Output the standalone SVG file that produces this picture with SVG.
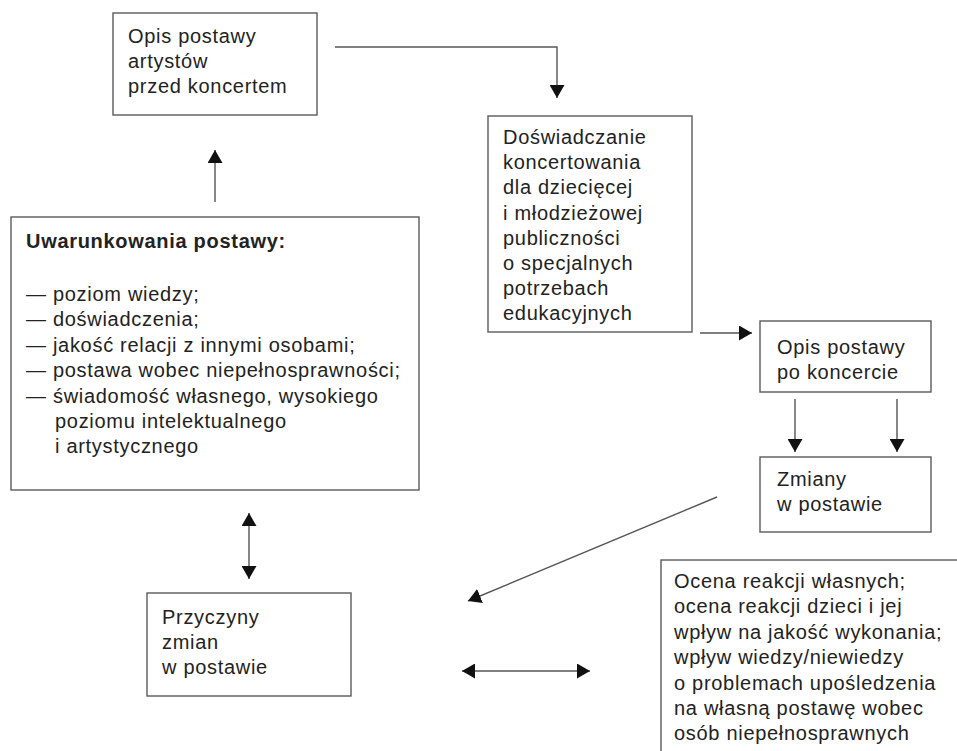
<svg xmlns="http://www.w3.org/2000/svg" width="957" height="751" viewBox="0 0 957 751">
<style>
.box{fill:#fff;stroke:#5a5a5a;stroke-width:1.4}
.t{font-family:"Liberation Sans",Arial,sans-serif;font-size:20px;letter-spacing:0.7px;fill:#222}
.b{font-weight:bold}
.ln{fill:none;stroke:#555;stroke-width:1.4}
</style>
<defs>
<marker id="ah" viewBox="0 0 13 15" refX="13" refY="7.5" markerWidth="13" markerHeight="15" markerUnits="userSpaceOnUse" orient="auto-start-reverse">
<path d="M0,0 L13,7.5 L0,15 Z" fill="#111"/>
</marker>
</defs>
<rect width="957" height="751" fill="#fff"/>
<g id="connectors">
<path class="ln" d="M335,47 H557 V98" marker-end="url(#ah)"/>
<path class="ln" d="M700,333 H752" marker-end="url(#ah)"/>
<path class="ln" d="M795,399 V452" marker-end="url(#ah)"/>
<path class="ln" d="M897,399 V452" marker-end="url(#ah)"/>
<path class="ln" d="M717,497 L468,601" marker-end="url(#ah)"/>
<path class="ln" d="M215,202 V150" marker-end="url(#ah)"/>
<path class="ln" d="M249,513 V579" marker-start="url(#ah)" marker-end="url(#ah)"/>
<path class="ln" d="M462,671 H590" marker-start="url(#ah)" marker-end="url(#ah)"/>
</g>
<g id="opis-przed">
<rect class="box" x="113" y="13" width="204" height="102"/>
<text class="t" x="128" y="43">Opis postawy</text>
<text class="t" x="128" y="68">artystów</text>
<text class="t" x="128" y="93">przed koncertem</text>
</g>
<g id="doswiadczanie">
<rect class="box" x="488" y="116" width="204" height="216"/>
<text class="t" x="503" y="144">Doświadczanie</text>
<text class="t" x="503" y="169.2">koncertowania</text>
<text class="t" x="503" y="194.4">dla dziecięcej</text>
<text class="t" x="503" y="219.6">i młodzieżowej</text>
<text class="t" x="503" y="244.8">publiczności</text>
<text class="t" x="503" y="270">o specjalnych</text>
<text class="t" x="503" y="295.2">potrzebach</text>
<text class="t" x="503" y="320.4">edukacyjnych</text>
</g>
<g id="uwarunkowania">
<rect class="box" x="11" y="217" width="408" height="273"/>
<text class="t b" x="26" y="248">Uwarunkowania postawy:</text>
<text class="t" x="26" y="301">— poziom wiedzy;</text>
<text class="t" x="26" y="326.4">— doświadczenia;</text>
<text class="t" x="26" y="351.8">— jakość relacji z innymi osobami;</text>
<text class="t" x="26" y="377.2">— postawa wobec niepełnosprawności;</text>
<text class="t" x="26" y="402.6">— świadomość własnego, wysokiego</text>
<text class="t" x="55" y="428">poziomu intelektualnego</text>
<text class="t" x="55" y="453.4">i artystycznego</text>
</g>
<g id="opis-po">
<rect class="box" x="760" y="321" width="171" height="71"/>
<text class="t" x="777" y="354">Opis postawy</text>
<text class="t" x="777" y="379">po koncercie</text>
</g>
<g id="zmiany">
<rect class="box" x="760" y="457" width="171" height="75"/>
<text class="t" x="777" y="486">Zmiany</text>
<text class="t" x="777" y="511">w postawie</text>
</g>
<g id="przyczyny">
<rect class="box" x="147" y="593" width="204" height="103"/>
<text class="t" x="162" y="624">Przyczyny</text>
<text class="t" x="162" y="649">zmian</text>
<text class="t" x="162" y="674">w postawie</text>
</g>
<g id="ocena">
<rect class="box" x="661" y="560" width="320" height="220"/>
<text class="t" x="674" y="588">Ocena reakcji własnych;</text>
<text class="t" x="674" y="613.4">ocena reakcji dzieci i jej</text>
<text class="t" x="674" y="638.8">wpływ na jakość wykonania;</text>
<text class="t" x="674" y="664.2">wpływ wiedzy/niewiedzy</text>
<text class="t" x="674" y="689.6">o problemach upośledzenia</text>
<text class="t" x="674" y="715">na własną postawę wobec</text>
<text class="t" x="674" y="740.4">osób niepełnosprawnych</text>
</g>
</svg>
